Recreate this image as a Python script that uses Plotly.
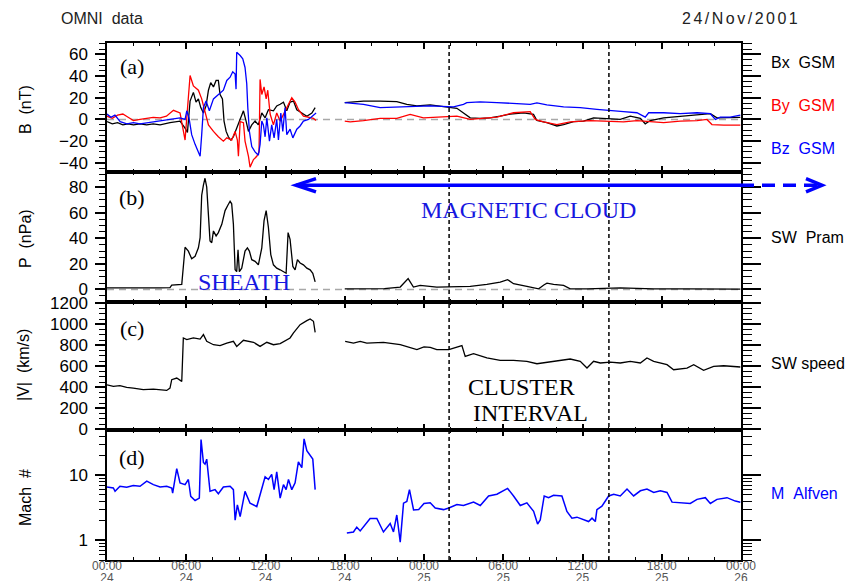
import plotly.graph_objects as go

# ---------------- data (time in hours since 2001-11-24 00:00 UT) ----------------
bx1_t = [0.0,0.4,0.8,1.2,1.6,2.0,2.5,3.0,3.5,4.02,4.77,5.53,5.91,6.09,6.29,6.54,6.74,6.92,7.10,7.30,7.50,7.68,7.85,8.06,8.26,8.43,8.56,8.74,8.86,9.02,9.19,9.37,9.57,9.82,10.08,10.33,10.53,10.71,10.96,11.21,11.46,11.72,11.97,12.22,12.60,12.85,13.11,13.36,13.61,13.86,14.12,14.37,14.75,15.13,15.51,15.76]
bx1_v = [-2,-4,-3,-5,-4,-5,-4,-5,-4,-5,-3,-1.5,-8,-12,17,25,16,19,11,6,12.5,27,34,30,36,36,23,19,-1.5,-11,-16,-19,-16,-8,-1.5,8,-1.5,-11,-5,-1.5,-5,6,1.5,9,8,12.5,14,16,8,16,17,9,6,3,6,11]
bx2_t = [18.0,19.42,20.68,21.94,22.70,23.46,24.47,25.48,26.49,26.99,27.50,28.25,29.01,29.77,30.53,31.54,32.29,32.55,33.30,34.06,34.57,35.32,36.08,36.84,37.85,38.86,39.62,40.38,40.75,41.13,42.14,43.40,44.67,45.68,46.18,47.19,47.95]
bx2_v = [15.6,17,17,16.5,14,12.5,13.4,11.6,10.3,6,1.5,1,1.5,3,5,6,4.7,-1,-3,-6,-4.7,-2,-1.5,1.5,1,0,3,1,-4,-1,1.5,3,4.7,5.3,1.5,1.5,2]

by1_t = [0.0,0.4,0.8,1.2,1.6,2.0,2.5,3.0,3.5,4.02,4.5,5.03,5.53,5.91,6.29,6.54,6.92,7.17,7.42,7.68,8.06,8.43,8.81,9.07,9.44,9.70,9.87,9.95,10.08,10.33,10.45,10.71,10.83,11.09,11.34,11.51,11.59,11.72,11.89,12.05,12.17,12.35,12.60,12.85,13.11,13.48,13.74,13.99,14.24,14.50,14.87,15.25,15.63,15.83]
by1_v = [3,1,4,5,2,-1,0,1,2,1.5,3,8.4,6,-19,40.6,31,27,19,6,-5,-11,-16,-20,-17,-19,-11,-19,-34,-2,-3,-20,-34,-44,-37,-34,-30,37,23,30,19,27,5,-5,6,-1.5,8,14,20,16,9,3,2,1,-1]
by2_t = [18.0,18.41,19.42,20.68,21.94,22.95,23.96,25.22,26.49,27.50,28.25,29.52,30.78,32.04,32.42,33.05,34.06,35.07,36.59,37.85,39.11,40.12,41.13,42.14,43.40,44.67,45.42,45.80,46.69,47.95]
by2_v = [-1.5,-2.2,-1,1,1,4.7,1.5,2.2,3,0,1,2.2,6.2,7.2,0,-2.2,-4.7,-2.2,-1,-1.5,-2.2,-1,-2.2,-3,-1.5,-1,0,-4.7,-5.3,-5.3]

bz1_t = [0.0,0.3,0.6,1.0,1.5,2.0,2.5,3.0,3.5,4.02,4.77,5.53,5.91,6.04,6.21,6.41,6.67,6.92,7.05,7.17,7.30,7.50,7.75,8.06,8.43,8.81,9.07,9.32,9.52,9.70,9.77,9.82,10.08,10.28,10.45,10.58,10.66,10.78,10.96,11.21,11.46,11.59,11.72,11.84,11.97,12.10,12.30,12.47,12.65,12.85,12.98,13.16,13.31,13.48,13.61,13.86,14.07,14.37,14.62,14.87,15.25,15.63,15.83]
bz1_v = [5,2,4,-2,-4,-3,-4,-3,-2,-1.5,0,1.5,0,8,1.5,-14,-23,-30,-34,-14,11,17,8,19,23,27,36,39,44,42,28,62,59,56,48,33,11,-11,-25,-30,-33,-23,-1.5,-5,-16,1.5,-20,-5,-17,0,-19,6,-11,11,-14,-9,-17,-9,-6,-1.5,0,4,6]
bz2_t = [18.0,19.42,20.68,21.94,23.20,24.47,26.23,26.99,27.24,28.25,29.52,30.78,32.04,32.55,33.30,34.57,35.83,37.09,37.85,39.11,40.12,40.75,41.01,42.14,43.40,44.67,45.68,46.06,46.43,47.19,47.95]
bz2_v = [15.6,14,11,11.6,12.5,12.5,11.6,14,15.6,16.3,15.6,14.7,14,15.3,13.4,11.6,11,9.4,8.4,7.2,6.2,2.2,6.2,6.2,5.3,6.2,5.3,0,2.2,2.2,4]

p1_t = [0,1,2,3,4.02,4.77,4.90,5.66,5.91,6.16,6.41,6.67,6.92,7.05,7.17,7.30,7.42,7.55,7.68,7.80,7.93,8.06,8.26,8.43,8.69,8.94,9.14,9.32,9.44,9.57,9.70,9.82,9.92,10.02,10.20,10.45,10.63,10.78,10.96,11.21,11.46,11.72,11.89,12.05,12.22,12.40,12.60,12.85,13.11,13.36,13.56,13.71,13.86,14.07,14.24,14.42,14.62,14.87,15.13,15.38,15.58,15.76]
p1_v = [1.3,1.2,1.3,1.1,1.2,1.5,3.4,4,33,30,24,26,32.6,40.5,73.7,81.6,87,80,61.7,38,36.6,45.8,41.9,44.5,51,61.7,65.7,69,67,51,15.4,14,31,14,16.7,30,32.6,30,23.3,22,19.3,32.6,53.8,61.7,48.5,27.3,19.3,16.7,15.4,14,12.7,44.5,39.2,18,15.4,23.3,20.7,19.3,16.7,15.4,12.7,6]
p2_t = [18.0,19.5,21.0,22.2,22.8,23.2,23.71,24.97,26.24,27.50,28.76,29.77,30.33,30.78,31.79,32.68,33.10,33.31,33.81,34.57,35.07,36.34,38.86,41.39,43.91,47.95]
p2_v = [0.5,0.8,0.6,1.9,8.5,1.9,3.2,1.9,1.9,2.4,4,5.8,7.7,4.5,2.4,0.5,3.7,5,4,3.2,0.5,0.5,1.3,0.5,0.5,0.3]

v1_t = [0,0.48,0.98,1.49,1.99,2.75,3.51,4.02,4.52,4.77,4.90,5.28,5.53,5.66,5.78,6.04,6.54,7.05,7.30,7.55,8.06,8.56,9.07,9.57,9.82,10.33,11.09,11.59,12.10,12.60,13.11,13.61,13.86,14.12,14.62,15.13,15.38,15.63,15.76]
v1_v = [425,410,416,400,394,378,384,378,371,394,473,489,473,457,870,854,870,860,902,838,806,797,822,838,790,848,829,790,829,806,816,854,870,918,997,1035,1051,1029,924]
v2_t = [18.03,18.66,19.17,19.67,20.93,22.20,23.46,24.0,24.47,24.97,25.88,26.24,26.87,27.12,27.75,28.76,29.77,30.78,31.79,32.55,33.81,35.07,35.83,36.34,36.84,37.35,38.10,38.86,39.62,40.38,40.88,41.39,42.40,42.90,43.91,44.42,45.17,45.93,46.69,47.19,47.95]
v2_v = [838,822,838,822,829,806,760,785,780,759,759,775,797,695,721,680,657,657,648,625,648,670,648,584,648,632,641,632,648,632,680,648,616,568,584,616,562,600,606,600,594]

m1_t = [0,0.48,0.61,0.98,1.49,1.99,2.5,3.01,3.51,4.02,4.52,4.90,4.97,5.28,5.53,5.91,6.16,6.34,6.67,6.99,7.12,7.30,7.42,7.55,7.80,8.18,8.43,8.81,9.32,9.57,9.70,9.87,10.08,10.45,10.83,11.34,11.97,12.22,12.47,12.65,12.85,13.11,13.36,13.56,13.74,13.99,14.24,14.49,14.75,14.92,15.13,15.38,15.58,15.76]
m1_v = [6.65,6.41,5.69,6.81,6.57,6.98,6.81,8.15,7.22,6.65,6.81,6.41,5.36,12.7,7.68,7.22,8.66,4.76,4.12,4.48,35.6,15.8,14.9,17.8,5.69,6.04,5.24,6.65,6.81,6.04,2.05,3.52,2.32,5.69,3.74,3.32,9.53,8.66,10.4,6.04,11.3,4.48,7.22,6.04,8.66,6.04,7.68,16.2,13.2,36.5,24,20,17.8,6.04]
m2_t = [18.16,18.66,18.91,19.17,19.92,20.43,20.93,21.44,21.69,21.94,22.20,22.45,22.70,22.90,23.21,23.6,24.0,24.47,24.85,25.48,25.88,26.49,26.99,27.75,28.26,28.89,29.52,30.33,30.78,31.29,31.79,32.30,32.60,32.80,33.10,33.43,33.81,34.44,34.82,35.20,35.58,36.08,36.46,36.72,36.97,37.09,37.47,37.98,38.36,38.86,39.37,39.87,40.38,40.88,41.39,41.89,42.40,42.78,43.41,44.16,44.67,45.30,45.68,46.18,46.94,47.57,47.95]
m2_v = [1.30,1.35,1.6,1.4,2.18,2.18,1.35,1.82,1.35,2.46,0.94,3.74,3.97,6.04,2.94,3.0,3.7,3.79,3.16,2.98,3.16,3.57,3.44,3.88,3.44,4.83,5.13,6.31,4.83,3.44,3.79,2.80,1.79,2.07,4.83,4.55,4.95,4.83,2.80,2.20,2.28,2.07,1.95,2.20,1.95,2.98,3.36,4.83,5.13,4.83,6.16,4.83,5.80,6.16,5.46,5.80,5.46,3.88,3.79,3.70,4.28,4.55,3.70,4.28,4.55,4.03,3.88]

cluster_interval = [25.9, 38.0]   # hours
x_tick_vals = [0, 6, 12, 18, 24, 30, 36, 42, 48]
x_tick_time = ["00:00", "06:00", "12:00", "18:00", "00:00", "06:00", "12:00", "18:00", "00:00"]
x_tick_day = ["24", "24", "24", "24", "25", "25", "25", "25", "26"]
x_minor_vals = [h for h in range(0, 49, 2) if h % 6 != 0]


def join(t1, v1, t2, v2):
    return t1 + [None] + t2, v1 + [None] + v2


BLUE = "#0000ff"
ABLUE = "#1717e0"
SANS = "Liberation Sans, Arial, sans-serif"
SERIF = "Liberation Serif, Times New Roman, serif"
XLAB = dict(family=SANS, size=12, color="#555555")

fig = go.Figure()

# panel a
for (t1, v1, t2, v2, col) in [(bx1_t, bx1_v, bx2_t, bx2_v, "black"),
                              (by1_t, by1_v, by2_t, by2_v, "#ff0000"),
                              (bz1_t, bz1_v, bz2_t, bz2_v, BLUE)]:
    t, v = join(t1, v1, t2, v2)
    fig.add_trace(go.Scatter(x=t, y=v, mode="lines", line=dict(color=col, width=1.3),
                             xaxis="x", yaxis="y", showlegend=False))
# panel b
t, v = join(p1_t, p1_v, p2_t, p2_v)
fig.add_trace(go.Scatter(x=t, y=v, mode="lines", line=dict(color="black", width=1.3),
                         xaxis="x2", yaxis="y2", showlegend=False))
# panel c
t, v = join(v1_t, v1_v, v2_t, v2_v)
fig.add_trace(go.Scatter(x=t, y=v, mode="lines", line=dict(color="black", width=1.3),
                         xaxis="x3", yaxis="y3", showlegend=False))
# panel d
t, v = join(m1_t, m1_v, m2_t, m2_v)
fig.add_trace(go.Scatter(x=t, y=v, mode="lines", line=dict(color=BLUE, width=1.5),
                         xaxis="x4", yaxis="y4", showlegend=False))
# dummy traces for right-hand twin axes and the day-label axis
for i, xa in zip([5, 6, 7, 8], ["x", "x2", "x3", "x4"]):
    fig.add_trace(go.Scatter(x=[None], y=[None], xaxis=xa, yaxis="y%d" % i,
                             showlegend=False, hoverinfo="skip"))
fig.add_trace(go.Scatter(x=[None], y=[None], xaxis="x5", yaxis="y4",
                         showlegend=False, hoverinfo="skip"))

domains = [[0.7505, 1.0], [0.499, 0.7505], [0.2515, 0.499], [0.0, 0.2515]]
yranges = [[-48.5, 70.6], [-9.8, 91.9], [-5, 1212], [-0.301, 1.699]]
ytick = [[-40, -20, 0, 20, 40, 60], [0, 20, 40, 60, 80], [0, 200, 400, 600, 800, 1000, 1200], [1, 10]]
yminor = [list(range(-45, 71, 5)), list(range(-5, 91, 5)), list(range(0, 1201, 50)),
          [0.5, 0.6, 0.7, 0.8, 0.9, 2, 3, 4, 5, 6, 7, 8, 9, 20, 30, 40]]

# the page body has an 8 px margin, so the figure is 8 px smaller and the
# left/top margins 8 px smaller: the plot area lands at x 107..741, y 43..552.
layout = dict(width=846, height=573, template="none",
              paper_bgcolor="white", plot_bgcolor="white",
              margin=dict(l=99, r=113, t=35, b=21), showlegend=False)

for i in range(4):
    sx = "" if i == 0 else str(i + 1)
    layout["xaxis" + sx] = dict(
        domain=[0, 1], anchor="y" + sx, range=[0, 48], showline=True, linecolor="black",
        linewidth=1.5, mirror="ticks", ticks="inside", ticklen=6, tickwidth=1.5, tickcolor="black",
        tickmode="array", tickvals=x_tick_vals, ticktext=x_tick_time,
        showticklabels=(i == 3), tickfont=XLAB, ticklabelstandoff=-6,
        showgrid=False, zeroline=False, automargin=False,
        minor=dict(tickmode="array", tickvals=x_minor_vals, ticks="inside", ticklen=3,
                   tickwidth=1.2, tickcolor="black", showgrid=False))
    ylog = (i == 3)
    layout["yaxis" + sx] = dict(
        domain=domains[i], anchor="x" + sx, range=yranges[i], type="log" if ylog else "linear",
        showline=True, linecolor="black", linewidth=1.5, ticks="outside", ticklen=10,
        tickwidth=1.5, tickcolor="black", tickmode="array", tickvals=ytick[i],
        tickfont=dict(family=SANS, size=17, color="black"), ticklabelstandoff=4,
        showgrid=False, zeroline=False, automargin=False,
        minor=dict(tickmode="array", tickvals=yminor[i], ticks="outside", ticklen=6,
                   tickwidth=1.2, tickcolor="black", showgrid=False))
    layout["yaxis%d" % (i + 5)] = dict(
        overlaying="y" + sx, anchor="x" + sx, side="right", range=yranges[i],
        type="log" if ylog else "linear", showline=True, linecolor="black", linewidth=1.5,
        ticks="outside", ticklen=18, tickwidth=1.5, tickcolor="black", tickmode="array",
        tickvals=ytick[i], showticklabels=False, showgrid=False, zeroline=False, automargin=False,
        minor=dict(tickmode="array", tickvals=yminor[i], ticks="outside", ticklen=9,
                   tickwidth=1.2, tickcolor="black", showgrid=False))

# second line of the time labels (day of month)
layout["xaxis5"] = dict(overlaying="x4", anchor="y4", side="bottom", range=[0, 48],
                        showline=False, ticks="", tickmode="array", tickvals=x_tick_vals,
                        ticktext=x_tick_day, tickfont=XLAB, ticklabelstandoff=9,
                        showgrid=False, zeroline=False, automargin=False)

fig.update_layout(**layout)

shapes = []
# gray zero lines in panels a and b
for ya, xa in [("y", "x"), ("y2", "x2")]:
    shapes.append(dict(type="line", xref=xa, yref=ya, x0=0, x1=48, y0=0, y1=0,
                       line=dict(color="#a8a8a8", width=1.5, dash="7px,5px"), layer="below"))
# cluster interval dashed verticals
for h in cluster_interval:
    shapes.append(dict(type="line", xref="x", yref="paper", x0=h, x1=h, y0=0, y1=1,
                       line=dict(color="black", width=1.5, dash="4px,3px")))


def px(xp):
    return (xp - 107) / 634.0


def py(yp):
    return (552 - yp) / 509.0


# magnetic cloud arrow
shapes.append(dict(type="line", xref="paper", yref="paper", x0=px(296), x1=px(741),
                   y0=py(183), y1=py(183), line=dict(color=BLUE, width=3.5)))
shapes.append(dict(type="path", xref="paper", yref="paper",
                   path="M %f %f L %f %f L %f %f" % (px(316), py(176.5), px(296), py(183), px(316), py(189.5)),
                   line=dict(color=BLUE, width=3.5)))
shapes.append(dict(type="line", xref="paper", yref="paper", x0=px(741), x1=px(820),
                   y0=py(183), y1=py(183), line=dict(color=BLUE, width=3.5, dash="13px,8px")))
shapes.append(dict(type="path", xref="paper", yref="paper",
                   path="M %f %f L %f %f L %f %f" % (px(806), py(176.5), px(822), py(183), px(806), py(189.5)),
                   line=dict(color=BLUE, width=3.5)))
fig.update_layout(shapes=shapes)

ann = []


def A(text, x, y, size, color="black", family=SANS, xanchor="center", angle=0):
    ann.append(dict(text=text, xref="paper", yref="paper", x=x, y=y, xanchor=xanchor,
                    yanchor="middle", showarrow=False, textangle=angle,
                    font=dict(family=family, size=size, color=color)))


A("OMNI\u00a0\u00a0data", px(59), py(19), 16, "#222222", xanchor="left")
A('<span style="letter-spacing:2.5px">24/Nov/2001</span>', px(802), py(19), 16, "#222222", xanchor="right")

A("Bx\u00a0\u00a0GSM", px(769), py(62), 16, "black", xanchor="left")
A("By\u00a0\u00a0GSM", px(769), py(105), 16, "#ff0000", xanchor="left")
A("Bz\u00a0\u00a0GSM", px(769), py(147), 16, BLUE, xanchor="left")
A("SW\u00a0\u00a0Pram", px(769), py(234), 16, "black", xanchor="left")
A("SW speed", px(769), py(359), 16, "black", xanchor="left")
A("M\u00a0\u00a0Alfven", px(769), py(487), 16, BLUE, xanchor="left")

A("B\u00a0\u00a0(nT)", px(25), py(109), 16, angle=-90)
A("P\u00a0\u00a0(nPa)", px(25), py(236), 16, angle=-90)
A("|V|\u00a0\u00a0(km/s)", px(24), py(360), 16, angle=-90)
A("Mach\u00a0\u00a0#", px(25), py(491), 16, angle=-90)

A("(a)", px(132), py(66), 22, family=SERIF)
A("(b)", px(132), py(195), 22, family=SERIF)
A("(c)", px(132), py(324), 22, family=SERIF)
A("(d)", px(132), py(451), 22, family=SERIF)

A("MAGNETIC CLOUD", px(528), py(207), 24, ABLUE, family=SERIF)
A("SHEATH", px(244), py(278), 24, ABLUE, family=SERIF)
A("CLUSTER", px(521), py(382), 24, "black", family=SERIF)
A("INTERVAL", px(530), py(407), 24, "black", family=SERIF)

fig.update_layout(annotations=ann)
fig.write_html("out.html")
